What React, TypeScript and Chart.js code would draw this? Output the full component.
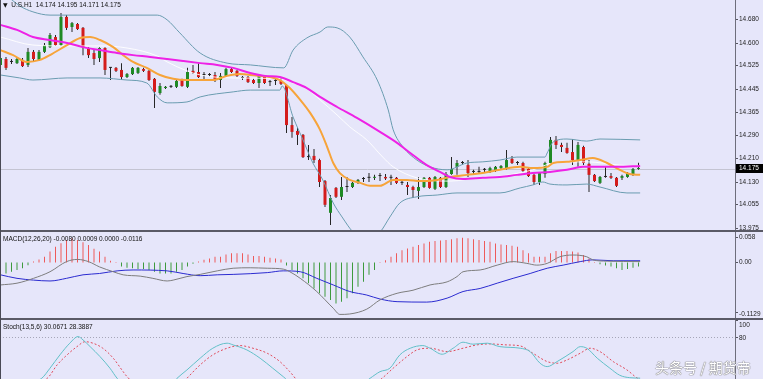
import React, { useEffect, useRef } from 'react';
import { Chart, registerables } from 'chart.js';

Chart.register(...registerables);

// ---------- DATA (H1 candles, index = bar number) ----------
const opens = [14.525,14.545,14.535,14.531,14.542,14.525,14.569,14.542,14.569,14.585,
14.619,14.592,14.687,14.653,14.663,14.650,14.582,14.565,14.548,14.582,
14.515,14.515,14.508,14.484,14.494,14.498,14.511,14.505,14.478,14.430,
14.447,14.451,14.451,14.474,14.451,14.505,14.501,14.491,14.491,14.491,
14.474,14.488,14.511,14.505,14.481,14.484,14.474,14.464,14.488,14.467,
14.471,14.471,14.457,14.322,14.302,14.289,14.214,14.218,14.204,14.133,
14.026,14.110,14.080,14.113,14.113,14.127,14.140,14.144,14.144,14.150,
14.147,14.144,14.144,14.127,14.120,14.113,14.100,14.113,14.144,14.107,
14.144,14.113,14.157,14.181,14.194,14.187,14.164,14.164,14.171,14.164,
14.167,14.177,14.174,14.208,14.194,14.194,14.174,14.154,14.130,14.157,
14.194,14.272,14.255,14.245,14.231,14.204,14.248,14.191,14.154,14.127,
14.147,14.150,14.144,14.144,14.147,14.154,14.174];
const highs = [14.558,14.552,14.545,14.552,14.548,14.582,14.575,14.575,14.599,14.633,
14.626,14.700,14.693,14.670,14.666,14.653,14.585,14.575,14.585,14.585,
14.518,14.518,14.531,14.498,14.518,14.518,14.515,14.508,14.481,14.464,
14.454,14.457,14.474,14.478,14.515,14.525,14.531,14.501,14.498,14.501,
14.498,14.515,14.515,14.508,14.488,14.488,14.478,14.494,14.491,14.474,
14.481,14.484,14.461,14.349,14.312,14.292,14.255,14.241,14.208,14.137,
14.086,14.113,14.147,14.147,14.130,14.140,14.147,14.160,14.154,14.160,
14.157,14.154,14.147,14.133,14.130,14.117,14.147,14.147,14.147,14.150,
14.147,14.164,14.214,14.204,14.201,14.204,14.171,14.181,14.177,14.181,
14.184,14.187,14.238,14.218,14.201,14.198,14.177,14.157,14.164,14.198,
14.282,14.285,14.262,14.262,14.275,14.265,14.252,14.204,14.157,14.150,
14.181,14.160,14.147,14.154,14.164,14.177,14.195];
const lows = [14.518,14.508,14.528,14.528,14.518,14.518,14.535,14.538,14.565,14.582,
14.589,14.589,14.643,14.636,14.643,14.558,14.548,14.525,14.535,14.491,
14.474,14.501,14.474,14.481,14.491,14.494,14.501,14.471,14.380,14.424,
14.444,14.447,14.447,14.451,14.447,14.494,14.481,14.474,14.484,14.467,
14.447,14.484,14.498,14.484,14.474,14.464,14.461,14.447,14.461,14.454,
14.457,14.457,14.295,14.279,14.255,14.211,14.204,14.194,14.113,14.046,
13.985,14.076,14.069,14.096,14.110,14.123,14.130,14.130,14.137,14.133,
14.137,14.120,14.123,14.120,14.086,14.076,14.073,14.110,14.107,14.103,
14.110,14.110,14.154,14.154,14.187,14.147,14.157,14.157,14.164,14.160,
14.164,14.171,14.171,14.191,14.187,14.164,14.147,14.120,14.120,14.144,
14.191,14.241,14.231,14.225,14.187,14.181,14.187,14.096,14.130,14.123,
14.144,14.140,14.113,14.137,14.144,14.150,14.171];
const closes = [14.548,14.515,14.535,14.545,14.521,14.569,14.545,14.569,14.592,14.626,
14.592,14.687,14.650,14.666,14.646,14.585,14.558,14.545,14.582,14.508,
14.515,14.505,14.484,14.494,14.515,14.515,14.505,14.474,14.434,14.454,
14.451,14.451,14.471,14.454,14.501,14.498,14.484,14.491,14.491,14.474,
14.488,14.511,14.501,14.488,14.481,14.467,14.464,14.488,14.464,14.467,
14.471,14.461,14.322,14.299,14.289,14.214,14.214,14.204,14.130,14.053,
14.076,14.080,14.113,14.113,14.127,14.137,14.140,14.144,14.147,14.150,
14.142,14.144,14.127,14.127,14.113,14.103,14.113,14.144,14.110,14.147,
14.113,14.157,14.174,14.194,14.194,14.160,14.164,14.164,14.171,14.177,
14.181,14.184,14.204,14.194,14.194,14.167,14.150,14.130,14.160,14.194,
14.272,14.255,14.248,14.228,14.204,14.255,14.194,14.154,14.133,14.147,
14.147,14.144,14.117,14.150,14.160,14.174,14.175];

// indicator lines as [bar index, value]
const bbUpper = [[0,14.772],[2.1,14.744],[3.5,14.724],[5.9,14.704],[9,14.693],[23,14.693],[28.5,14.693],[30.3,14.677],[32.6,14.633],[36.3,14.565],[41.2,14.531],[45.4,14.525],[51.5,14.515],[53.2,14.575],[55.7,14.616],[58.1,14.636],[59.5,14.653],[61.2,14.650],[63.5,14.619],[65.9,14.552],[68.5,14.474],[70.5,14.373],[71.4,14.306],[73.2,14.248],[75.7,14.204],[78.1,14.181],[81.2,14.171],[84.8,14.194],[87.7,14.198],[90.8,14.204],[93.9,14.214],[99,14.214],[99.4,14.228],[100.5,14.265],[103,14.275],[106.6,14.268],[109,14.275],[116.3,14.272]];
const bbLower = [[0,14.491],[3.5,14.481],[5.9,14.474],[12.1,14.481],[18.1,14.481],[23,14.474],[26.6,14.464],[28.5,14.417],[30.3,14.397],[33.9,14.400],[36.3,14.417],[42.3,14.434],[45.4,14.440],[50.8,14.440],[51.2,14.454],[53.2,14.349],[55,14.272],[56.8,14.194],[58.6,14.137],[60.5,14.059],[62.1,14.012],[64.1,13.961],[66.3,13.935],[69,13.961],[70.8,14.012],[72.6,14.059],[75.7,14.080],[79.4,14.086],[83,14.093],[90.8,14.093],[94.5,14.110],[96.8,14.120],[98.6,14.130],[99.9,14.123],[103,14.120],[106.6,14.123],[109,14.113],[113.9,14.093],[116.3,14.093]];
const bbMiddle = [[0,14.619],[5.9,14.592],[12.1,14.589],[18.1,14.589],[23,14.582],[28.5,14.555],[30.3,14.535],[33.9,14.505],[36.3,14.491],[42.3,14.481],[50.8,14.478],[53.2,14.464],[55.7,14.444],[58.1,14.407],[61.2,14.356],[63.5,14.316],[66.6,14.272],[69.5,14.214],[71.4,14.181],[75.7,14.144],[81.7,14.133],[87.7,14.147],[90.8,14.150],[96.8,14.171],[100.5,14.194],[106.6,14.198],[112.6,14.187],[116.3,14.184]];
const maFast = [[0,14.575],[2.3,14.558],[4.8,14.535],[7.2,14.542],[9,14.558],[12.1,14.592],[14.5,14.616],[16.3,14.619],[18.1,14.609],[20.5,14.585],[22.3,14.558],[24.1,14.535],[26.6,14.515],[29,14.491],[31.4,14.478],[33.9,14.474],[38.6,14.474],[41.2,14.488],[43.5,14.494],[45.4,14.491],[50.8,14.474],[52.6,14.447],[54.5,14.407],[56.3,14.363],[58.1,14.306],[59.4,14.248],[60.5,14.194],[61.7,14.160],[63.5,14.137],[65.4,14.127],[67.2,14.117],[69,14.117],[71.4,14.137],[73.9,14.137],[76.3,14.133],[79.4,14.137],[81.7,14.147],[84.8,14.154],[87.7,14.160],[90.8,14.171],[94.5,14.181],[96.8,14.177],[99.4,14.181],[100.5,14.194],[103,14.198],[105.4,14.204],[107.7,14.211],[110.3,14.194],[112.6,14.171],[114.4,14.157],[116.3,14.154]];
const maSlow = [[0,14.660],[3,14.643],[5.9,14.619],[9,14.609],[12.1,14.599],[15,14.585],[18.1,14.575],[21.2,14.565],[24.1,14.558],[27.2,14.552],[30.3,14.545],[33.2,14.538],[36.3,14.531],[39.4,14.525],[42.3,14.515],[45.4,14.498],[48.1,14.488],[50.8,14.484],[53.2,14.467],[55.7,14.447],[58.1,14.417],[61.2,14.383],[64.8,14.346],[69,14.299],[72.1,14.262],[74.5,14.228],[77.5,14.187],[79.9,14.164],[81.7,14.147],[84.1,14.140],[87.7,14.144],[90.8,14.147],[93.9,14.154],[96.8,14.160],[99.9,14.164],[103,14.171],[105.9,14.181],[109,14.181],[112.1,14.181],[116.3,14.184]];

const priceTicks = [14.680,14.600,14.525,14.445,14.365,14.290,14.210,14.130,14.055,13.975];
const lastPrice = 14.175;

// MACD(12,26,20)
const macdHist = [-0.025,-0.025,-0.021,-0.017,-0.013,-0.006,0.002,0.007,0.013,0.025,
0.036,0.044,0.051,0.055,0.051,0.046,0.040,0.031,0.025,0.013,
0.004,0.001,-0.009,-0.012,-0.013,-0.015,-0.015,-0.017,-0.021,-0.025,
-0.025,-0.025,-0.021,-0.017,-0.009,-0.003,0.002,0.006,0.009,0.013,
0.013,0.018,0.021,0.021,0.021,0.018,0.015,0.015,0.013,0.011,
0.009,0.007,-0.007,-0.017,-0.025,-0.036,-0.047,-0.059,-0.070,-0.078,
-0.085,-0.093,-0.089,-0.081,-0.070,-0.055,-0.044,-0.028,-0.017,0.001,
0.005,0.013,0.021,0.028,0.032,0.036,0.040,0.043,0.047,0.049,
0.050,0.051,0.053,0.055,0.056,0.055,0.053,0.051,0.049,0.047,
0.043,0.041,0.040,0.038,0.036,0.028,0.021,0.013,0.013,0.013,
0.021,0.026,0.026,0.026,0.025,0.023,0.017,0.009,0.001,-0.004,
-0.007,-0.009,-0.013,-0.017,-0.015,-0.012,-0.009];
const macdMain = [[0,-0.051],[3,-0.047],[6,-0.036],[9,-0.021],[12,0.002],[14,0.007],[16,0.002],[18,-0.010],[20.5,-0.021],[22.3,-0.028],[25.4,-0.031],[27.7,-0.036],[30.3,-0.042],[31.4,-0.040],[33.9,-0.032],[36.3,-0.027],[39.4,-0.019],[42.3,-0.013],[45.4,-0.012],[48.5,-0.013],[51.4,-0.015],[52.6,-0.021],[54.5,-0.036],[57.5,-0.066],[60.5,-0.104],[61.7,-0.118],[63.5,-0.117],[66.6,-0.106],[69,-0.085],[72.1,-0.070],[75,-0.063],[78.1,-0.051],[81.2,-0.044],[83,-0.032],[84.1,-0.021],[87.2,-0.017],[90.3,-0.006],[93.2,0.002],[95.7,-0.002],[97.5,-0.006],[99.4,-0.002],[101.7,0.013],[104.1,0.017],[106.6,0.013],[107.7,0.006],[110.3,0.003],[116.3,0.002]];
const macdSignal = [[0,-0.028],[3,-0.036],[6,-0.040],[9,-0.042],[12,-0.036],[15,-0.028],[18,-0.025],[21.2,-0.019],[24.1,-0.017],[30.3,-0.019],[33.2,-0.025],[36.3,-0.030],[39.4,-0.028],[42.3,-0.027],[48.5,-0.023],[51.4,-0.019],[54.5,-0.021],[57.5,-0.036],[60.5,-0.051],[63.5,-0.066],[66.6,-0.074],[69,-0.083],[72.1,-0.089],[77.5,-0.090],[81.2,-0.081],[84.1,-0.066],[87.2,-0.059],[90.3,-0.047],[93.2,-0.036],[96.3,-0.025],[99.4,-0.013],[102.3,-0.006],[105.4,0.002],[107.7,0.006],[111.4,0.004],[116.3,0.004]];
const macdTicks = [0.058, 0, -0.1129];

// Stoch(13,5,6)
const stochK = [[0,12],[7.5,29.9],[9,42.1],[10.8,58.2],[12.6,72.4],[14.1,80.4],[15,76.4],[16.3,68.2],[18.1,56.1],[19.9,42.1],[21.2,29.9],[24,12],[29,8],[32.1,29.9],[33.9,40],[36.3,54.2],[38.6,66.3],[41.2,72.4],[42.3,70.3],[44.8,64.2],[47.2,54.2],[49.5,42.1],[51.4,31.9],[55,12],[62,6],[67.2,29.9],[69,37.9],[70.8,42.1],[72.6,58.2],[74.5,66.3],[76.8,69.5],[78.1,66.3],[80.3,59.0],[82.3,66.3],[84.1,73.6],[85.9,71.2],[88.5,72.4],[90.8,68.2],[94.5,66.3],[96.3,62.2],[98.1,48.1],[99.4,44.0],[101.2,50.1],[104.1,62.2],[105.4,68.2],[106.6,66.3],[108.5,54.2],[110.8,42.1],[112.6,33.5],[114.4,30.6],[116.3,30.07]];
const stochD = [[0,15],[8.5,29.9],[10.3,46.1],[12.1,58.2],[13.9,68.2],[15.4,74.2],[16.8,72.4],[18.6,66.3],[20.5,54.2],[22.3,37.9],[23,31.9],[26,15],[31,10],[33.9,29.9],[36.3,46.1],[38.6,58.2],[41.2,66.3],[43.5,69.5],[45.9,66.3],[48.5,60.2],[50.8,50.1],[52.6,37.9],[55,20],[62,10],[67,20],[69,27.9],[71.4,42.1],[73.9,56.1],[75.7,64.2],[78.1,66.3],[81.2,62.2],[84.1,66.3],[86.6,70.3],[89,71.5],[92.1,70.3],[94.5,69.1],[96.8,60.2],[99.4,50.1],[101.2,48.1],[103,52.1],[105.4,60.2],[107.2,66.3],[109,62.2],[111.4,50.1],[113.9,40],[115.7,30.5],[116.3,28.39]];
const stochTicks = [100, 80];
const stochLevel = 80;

// ---------- STYLE / LAYOUT ----------
const BG = '#E6E6FA';
const SEP = '#5a5a66';
const PLOT_W = 735;
const STEP = 5.5;
const X_MIN = -0.5 / STEP;
const X_MAX = X_MIN + PLOT_W / STEP;
const FONT = '"Liberation Sans", Arial, sans-serif';
const UP = '#1f8a24';
const DOWN = '#d41c1c';
const WICK = '#262626';

const pts = (arr: number[][]) => arr.map(([x, y]) => ({ x, y }));

const lineDs = (data: number[][], color: string, width: number, extra: any = {}) => ({
  type: 'line',
  data: pts(data),
  borderColor: color,
  borderWidth: width,
  pointRadius: 0,
  cubicInterpolationMode: 'monotone',
  fill: false,
  order: 0,
  ...extra,
});

const xScale = { type: 'linear', min: X_MIN, max: X_MAX, display: false, offset: false };

function axisPlugin(labels: { v: number; t: string; dy?: number }[], hlines: { v: number; color: string; dash?: number[] }[], box?: { v: number; t: string }) {
  return {
    id: 'mtAxis',
    beforeDatasetsDraw(chart: any) {
      const { ctx, chartArea: a, scales } = chart;
      ctx.save();
      for (const h of hlines) {
        const py = Math.round(scales.y.getPixelForValue(h.v)) + 0.5;
        ctx.strokeStyle = h.color;
        ctx.lineWidth = 1;
        ctx.setLineDash(h.dash || []);
        ctx.beginPath();
        ctx.moveTo(a.left, py);
        ctx.lineTo(a.right, py);
        ctx.stroke();
      }
      ctx.restore();
    },
    afterDraw(chart: any) {
      const { ctx, chartArea: a, scales, height } = chart;
      const y = scales.y;
      ctx.save();
      ctx.strokeStyle = '#6e6e7c';
      ctx.lineWidth = 1;
      ctx.beginPath();
      ctx.moveTo(a.right + 0.5, 0);
      ctx.lineTo(a.right + 0.5, height);
      ctx.stroke();
      ctx.font = `6.5px ${FONT}`;
      ctx.fillStyle = '#1e1e1e';
      ctx.textBaseline = 'middle';
      ctx.strokeStyle = '#555560';
      for (const l of labels) {
        const py = Math.round(y.getPixelForValue(l.v)) + 0.5;
        ctx.beginPath();
        ctx.moveTo(a.right + 1, py);
        ctx.lineTo(a.right + 3, py);
        ctx.stroke();
        ctx.fillText(l.t, a.right + 4, py + (l.dy || 0));
      }
      if (box) {
        const py = y.getPixelForValue(box.v);
        ctx.fillStyle = '#000';
        ctx.fillRect(a.right + 1, Math.round(py - 4.5), chart.width - a.right - 1, 9);
        ctx.fillStyle = '#fff';
        ctx.fillText(box.t, a.right + 4, py);
      }
      ctx.restore();
    },
  };
}

const baseOptions = (yMin: number, yMax: number) => ({
  responsive: false,
  animation: false,
  events: [],
  layout: { padding: { left: 0, top: 0, bottom: 0, right: 763 - PLOT_W } },
  plugins: { legend: { display: false }, tooltip: { enabled: false } },
  scales: {
    x: xScale,
    y: { type: 'linear', min: yMin, max: yMax, display: false },
  },
});

function mainConfig(): any {
  const bodyColors = opens.map((o, i) => (closes[i] > o ? UP : closes[i] < o ? DOWN : WICK));
  return {
    type: 'bar',
    data: {
      datasets: [
        lineDs(maSlow, '#ee22e6', 2),
        lineDs(maFast, '#f7a43a', 2),
        lineDs(bbMiddle, 'rgba(255,255,255,0.9)', 1),
        lineDs(bbUpper, '#6a9cb0', 1),
        lineDs(bbLower, '#6a9cb0', 1),
        {
          type: 'bar',
          data: opens.map((o, i) => ({ x: i, y: [o, closes[i]] })),
          backgroundColor: bodyColors,
          grouped: false,
          barThickness: 3,
          minBarLength: 1,
          inflateAmount: 0,
          order: 1,
        },
        {
          type: 'bar',
          data: highs.map((h, i) => ({ x: i, y: [lows[i], h] })),
          backgroundColor: WICK,
          grouped: false,
          barThickness: 1,
          inflateAmount: 0,
          order: 2,
        },
      ],
    },
    options: baseOptions(13.968, 14.744),
    plugins: [
      axisPlugin(
        priceTicks.map((v) => ({ v, t: v.toFixed(3) })),
        [{ v: lastPrice, color: '#c4c4d2' }],
        { v: lastPrice, t: lastPrice.toFixed(3) }
      ),
    ],
  };
}

function macdConfig(): any {
  return {
    type: 'bar',
    data: {
      datasets: [
        lineDs(macdMain, '#7d7d7d', 1),
        lineDs(macdSignal, '#2b2bd0', 1),
        {
          type: 'bar',
          data: macdHist.map((v, i) => ({ x: i, y: v })),
          backgroundColor: macdHist.map((v) => (v >= 0 ? '#ee5a5a' : '#3e9a3e')),
          grouped: false,
          barThickness: 1,
          inflateAmount: 0,
          order: 1,
        },
      ],
    },
    options: baseOptions(-0.12614, 0.06932),
    plugins: [
      axisPlugin(
        macdTicks.map((v) => ({ v, t: v === 0 ? '0.00' : String(v), dy: v < 0 ? 2 : 0 })),
        []
      ),
    ],
  };
}

function stochConfig(): any {
  return {
    type: 'line',
    data: {
      datasets: [
        lineDs(stochK, '#62c0c8', 1),
        lineDs(stochD, '#e04a5a', 1, { borderDash: [2, 2] }),
      ],
    },
    options: baseOptions(29, 100.5),
    plugins: [
      axisPlugin(
        stochTicks.map((v) => ({ v, t: String(v), dy: v === 100 ? 5 : 1 })),
        [{ v: stochLevel, color: '#a6a6b8', dash: [1, 2] }]
      ),
    ],
  };
}

const txt: React.CSSProperties = {
  position: 'absolute',
  font: `6.5px ${FONT}`,
  color: '#111',
  whiteSpace: 'pre',
  lineHeight: '8px',
};

export default function App() {
  const mainRef = useRef<HTMLCanvasElement>(null);
  const macdRef = useRef<HTMLCanvasElement>(null);
  const stochRef = useRef<HTMLCanvasElement>(null);

  useEffect(() => {
    const charts = [
      new Chart(mainRef.current as HTMLCanvasElement, mainConfig()),
      new Chart(macdRef.current as HTMLCanvasElement, macdConfig()),
      new Chart(stochRef.current as HTMLCanvasElement, stochConfig()),
    ];
    return () => charts.forEach((c) => c.destroy());
  }, []);

  const cv: React.CSSProperties = { position: 'absolute', left: 0, background: BG, display: 'block' };

  return (
    <div style={{ position: 'absolute', left: 0, top: 0, width: 763, height: 379, overflow: 'hidden', background: SEP }}>
      <canvas ref={mainRef} width={763} height={230} style={{ ...cv, top: 0, width: 763, height: 230 }} />
      <canvas ref={macdRef} width={763} height={86} style={{ ...cv, top: 232, width: 763, height: 86 }} />
      <canvas ref={stochRef} width={763} height={59} style={{ ...cv, top: 320, width: 763, height: 59 }} />
      <div style={{ position: 'absolute', left: 0, top: 0, width: 1, height: 379, background: '#4a4a55' }} />
      <div style={{ ...txt, left: 3, top: 1 }}>
        <span style={{ fontSize: 6, fontFamily: '"DejaVu Sans", sans-serif' }}>▼</span>
        {'  U.S.H1  14.174 14.195 14.171 14.175'}
      </div>
      <div style={{ ...txt, left: 3, top: 235 }}>{'MACD(12,26,20) -0.0080 0.0009 0.0000 -0.0116'}</div>
      <div style={{ ...txt, left: 3, top: 323 }}>{'Stoch(13,5,6) 30.0671 28.3887'}</div>
      <div
        style={{
          position: 'absolute',
          left: 655,
          top: 358,
          font: '14px "Noto Sans CJK SC", sans-serif',
          color: '#ffffff',
          whiteSpace: 'pre',
          lineHeight: '18px',
          textShadow: '0 0 1px #777, 0 0 1px #777, 0 0 1px #777',
        }}
      >
        {'头条号 / 期货帝'}
      </div>
    </div>
  );
}
